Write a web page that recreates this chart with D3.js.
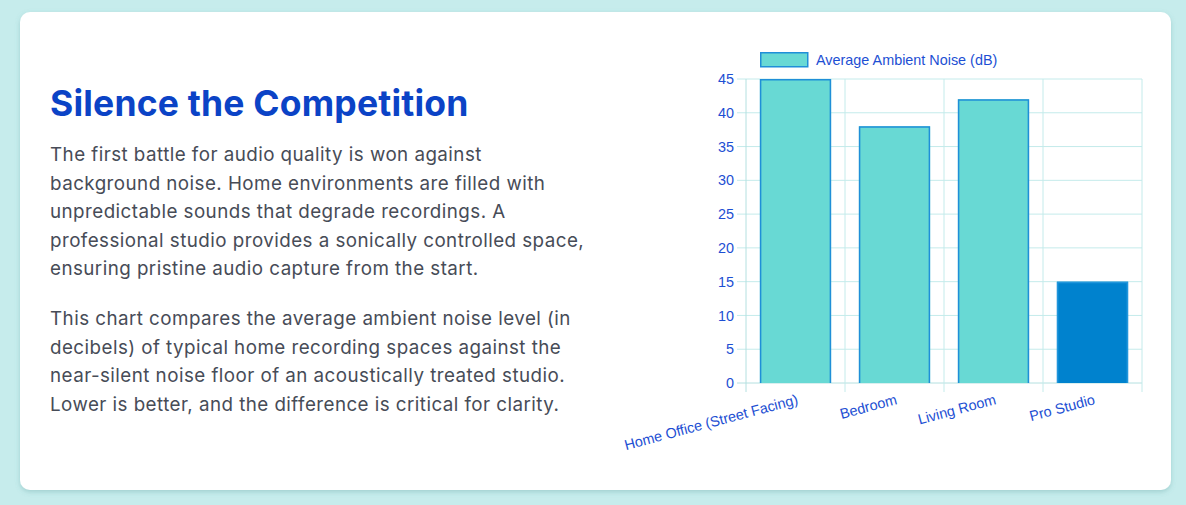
<!DOCTYPE html>
<html>
<head>
<meta charset="utf-8">
<script src="https://cdn.jsdelivr.net/npm/d3@7"></script>
<style>
  html, body { margin: 0; padding: 0; background: #c6ecec; }
  svg { display: block; }
  .axis text { font-family: "Liberation Sans", Arial, sans-serif; font-size: 14.4px; fill: #1d4fd3; }
  .axis .domain { display: none; }
  .axis line { stroke: #c4ebeb; }
</style>
</head>
<body>
<svg id="chart" width="1186" height="505"></svg>
<script>
// chart data
const categories = ['Home Office (Street Facing)', 'Bedroom', 'Living Room', 'Pro Studio'];
const noiseDb = [45, 38, 42, 15];
const barColors = ['#68d9d4', '#68d9d4', '#68d9d4', '#0082ce'];
const yTicks = [0, 5, 10, 15, 20, 25, 30, 35, 40, 45];
const seriesLabel = 'Average Ambient Noise (dB)';

const titleText = 'Silence the Competition';
const para1 = [
    'The first battle for audio quality is won against',
    'background noise. Home environments are filled with',
    'unpredictable sounds that degrade recordings. A',
    'professional studio provides a sonically controlled space,',
    'ensuring pristine audio capture from the start.'
];
const para2 = [
    'This chart compares the average ambient noise level (in',
    'decibels) of typical home recording spaces against the',
    'near-silent noise floor of an acoustically treated studio.',
    'Lower is better, and the difference is critical for clarity.'
];

const svg = d3.select('#chart');

// card
const defs = svg.append('defs');
const f = defs.append('filter').attr('id', 'shadow')
    .attr('x', '-5%').attr('y', '-5%').attr('width', '110%').attr('height', '115%');
f.append('feDropShadow').attr('dx', 0).attr('dy', 2).attr('stdDeviation', 2.5)
    .attr('flood-color', '#4a8f8f').attr('flood-opacity', 0.3);

svg.append('rect')
    .attr('x', 20).attr('y', 12)
    .attr('width', 1151).attr('height', 478)
    .attr('rx', 10)
    .attr('fill', '#ffffff')
    .attr('filter', 'url(#shadow)');

// left text block
svg.append('text')
    .attr('x', 50).attr('y', 116)
    .attr('font-family', 'Inter, sans-serif')
    .attr('font-weight', 700)
    .attr('font-size', 35.5)
    .attr('letter-spacing', 0.2)
    .attr('fill', '#0b43c6')
    .text(titleText);

function paragraph(lines, y0) {
    svg.append('text')
        .attr('font-family', 'Inter, sans-serif')
        .attr('font-size', 18.8)
        .attr('letter-spacing', 0.45)
        .attr('fill', '#474c57')
        .selectAll('tspan')
        .data(lines)
        .join('tspan')
            .attr('x', 50)
            .attr('y', (d, i) => y0 + i * 28.5)
            .text(d => d);
}
paragraph(para1, 161);
paragraph(para2, 325);

// bar chart
const plot = {left: 746, right: 1142, top: 79, bottom: 383};

const xScale = d3.scaleBand()
    .domain(categories)
    .range([plot.left, plot.right]);

const yScale = d3.scaleLinear()
    .domain([0, 45])
    .range([plot.bottom, plot.top]);

const grid = svg.append('g');

// horizontal gridlines (with tick marks to the left)
grid.selectAll('.hgrid')
    .data(yTicks)
    .join('line')
        .attr('class', 'hgrid')
        .attr('x1', plot.left - 9)
        .attr('x2', plot.right)
        .attr('y1', d => yScale(d))
        .attr('y2', d => yScale(d))
        .attr('stroke', d => d === 0 ? '#b4e0e0' : '#c4ebeb')
        .attr('stroke-width', 1);

// vertical gridlines at band edges
const edges = categories.map(c => xScale(c)).concat([plot.right]);
grid.selectAll('.vgrid')
    .data(edges)
    .join('line')
        .attr('class', 'vgrid')
        .attr('x1', d => d)
        .attr('x2', d => d)
        .attr('y1', plot.top)
        .attr('y2', plot.bottom + 9)
        .attr('stroke', (d, i) => i === 0 ? '#b4e0e0' : '#c4ebeb')
        .attr('stroke-width', 1);

// y axis labels
svg.append('g')
    .attr('class', 'axis')
    .attr('transform', `translate(${plot.left - 12}, 0)`)
    .call(d3.axisLeft(yScale).tickValues(yTicks).tickSize(0).tickPadding(0));

// bars
const barW = xScale.bandwidth() * 0.72;
const bars = svg.append('g');
categories.forEach((c, i) => {
    const x0 = xScale(c) + (xScale.bandwidth() - barW) / 2;
    const yTop = yScale(noiseDb[i]);
    bars.append('rect')
        .attr('x', x0)
        .attr('y', yTop)
        .attr('width', barW)
        .attr('height', yScale(0) - yTop)
        .attr('fill', barColors[i]);
    bars.append('path')
        .attr('d', `M${x0 + 0.75},${yScale(0)}V${yTop + 0.75}H${x0 + barW - 0.75}V${yScale(0)}`)
        .attr('fill', 'none')
        .attr('stroke', i === 3 ? '#2196dc' : '#1f8fd8')
        .attr('stroke-width', 1.5);
});

// x axis labels, rotated
svg.append('g')
    .attr('class', 'axis')
    .selectAll('text')
    .data(categories)
    .join('text')
        .attr('transform', d => `translate(${xScale(d) + xScale.bandwidth() / 2 + 2}, ${plot.bottom + 16}) rotate(-15)`)
        .attr('text-anchor', 'end')
        .attr('dy', '0.35em')
        .text(d => d);

// legend
const legend = svg.append('g').attr('transform', 'translate(760, 52)');
legend.append('rect')
    .attr('x', 0.75).attr('y', 0.75)
    .attr('width', 47).attr('height', 14)
    .attr('fill', barColors[0])
    .attr('stroke', '#1f8fd8')
    .attr('stroke-width', 1.5);
legend.append('text')
    .attr('x', 56).attr('y', 7.5)
    .attr('dy', '0.35em')
    .attr('font-family', '"Liberation Sans", Arial, sans-serif')
    .attr('font-size', 14.4)
    .attr('fill', '#1d4fd3')
    .text(seriesLabel);
</script>
</body>
</html>
